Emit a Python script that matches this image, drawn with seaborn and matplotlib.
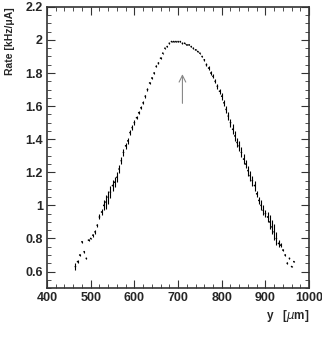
import matplotlib
matplotlib.use("Agg")
import matplotlib.pyplot as plt
import seaborn as sns
import numpy as np
import pandas as pd
from matplotlib.ticker import MultipleLocator

# data
pos_um = [465, 470, 475, 480, 485, 490, 495, 500, 505, 510, 515, 520, 525, 530, 535,
          540, 545, 550, 555, 560, 565, 570, 575, 580, 585, 590, 595, 600, 605, 610,
          615, 620, 625, 630, 635, 640, 645, 650, 655, 660, 665, 670, 675, 680, 685,
          690, 695, 700, 705, 710, 715, 720, 725, 730, 735, 740, 745, 750, 755, 760,
          765, 770, 775, 780, 785, 790, 795, 800, 805, 810, 815, 820, 825, 830, 835,
          840, 845, 850, 855, 860, 865, 870, 875, 880, 885, 890, 895, 900, 905, 910,
          915, 920, 925, 930, 935, 940, 945, 950, 955, 960, 965]
rate = [0.63, 0.66, 0.70, 0.78, 0.72, 0.68, 0.79, 0.80, 0.82, 0.84, 0.88, 0.93, 0.96, 1.00, 1.02,
        1.05, 1.08, 1.12, 1.14, 1.17, 1.22, 1.27, 1.32, 1.36, 1.39, 1.44, 1.47, 1.50, 1.53, 1.56,
        1.59, 1.62, 1.66, 1.70, 1.74, 1.77, 1.80, 1.84, 1.86, 1.89, 1.92, 1.95, 1.96, 1.98, 1.99,
        1.99, 1.99, 1.99, 1.99, 1.98, 1.98, 1.97, 1.97, 1.96, 1.95, 1.94, 1.93, 1.92, 1.90, 1.88,
        1.85, 1.83, 1.80, 1.78, 1.75, 1.72, 1.69, 1.66, 1.62, 1.58, 1.54, 1.50, 1.46, 1.42, 1.38,
        1.36, 1.32, 1.28, 1.25, 1.21, 1.18, 1.15, 1.12, 1.07, 1.03, 1.00, 0.97, 0.95, 0.93, 0.90,
        0.87, 0.84, 0.80, 0.77, 0.76, 0.73, 0.70, 0.65, 0.68, 0.63, 0.66]
rate_err = [0.02, 0.01, 0.005, 0.005, 0.005, 0.005, 0.005, 0.005, 0.01, 0.01, 0.01, 0.015, 0.02, 0.03, 0.04,
            0.04, 0.035, 0.035, 0.03, 0.03, 0.025, 0.02, 0.02, 0.02, 0.02, 0.015, 0.015, 0.015, 0.01, 0.01,
            0.01, 0.01, 0.01, 0.01, 0.008, 0.008, 0.008, 0.006, 0.006, 0.005, 0.004, 0.004, 0.003, 0.003, 0.003,
            0.003, 0.003, 0.003, 0.003, 0.003, 0.003, 0.003, 0.003, 0.003, 0.003, 0.003, 0.003, 0.004, 0.005, 0.006,
            0.008, 0.01, 0.01, 0.012, 0.012, 0.015, 0.015, 0.02, 0.02, 0.02, 0.025, 0.025, 0.03, 0.03, 0.03,
            0.03, 0.03, 0.03, 0.025, 0.03, 0.03, 0.03, 0.03, 0.02, 0.02, 0.03, 0.03, 0.02, 0.03, 0.04,
            0.04, 0.05, 0.04, 0.02, 0.01, 0.005, 0.005, 0.005, 0.005, 0.005, 0.005]
arrow_x = 710
arrow_y0, arrow_y1 = 1.60, 1.81

df = pd.DataFrame({"pos": pos_um, "rate": rate, "err": rate_err})

sns.set_style("ticks")
plt.rcParams["font.family"] = ["Liberation Sans", "DejaVu Sans"]

fig = plt.figure(figsize=(3.22, 3.43), dpi=100)
ax = fig.add_axes([0.146, 0.160, 0.814, 0.820])

ax.errorbar(df["pos"], df["rate"], yerr=df["err"], fmt="none",
            ecolor="black", elinewidth=0.8, capsize=0)
sns.scatterplot(data=df, x="pos", y="rate", ax=ax, s=1.5, color="black",
                edgecolor="none", legend=False)

ax.annotate("", xy=(arrow_x, arrow_y1), xytext=(arrow_x, arrow_y0),
            arrowprops=dict(arrowstyle="->", color="#888888", lw=0.8,
                            mutation_scale=12))

ax.set_xlim(400, 1000)
ax.set_ylim(0.5, 2.2)
ax.xaxis.set_major_locator(MultipleLocator(100))
ax.xaxis.set_minor_locator(MultipleLocator(20))
ax.yaxis.set_major_locator(MultipleLocator(0.2))
ax.yaxis.set_minor_locator(MultipleLocator(0.05))
ax.yaxis.set_major_formatter(matplotlib.ticker.FuncFormatter(lambda v, p: f"{v:.1f}".rstrip("0").rstrip(".")))

ax.tick_params(which="both", direction="in", top=True, right=True, color="#333333")
ax.tick_params(which="major", length=6, width=0.8, labelsize=9, pad=3)
ax.tick_params(which="minor", length=3, width=0.6)
for lab in ax.get_xticklabels() + ax.get_yticklabels():
    lab.set_fontweight("bold")
for s in ax.spines.values():
    s.set_linewidth(1.2)
    s.set_color("#333333")

ax.set_xlabel("y   [$\\mathit{\\mu}$m]", loc="right", fontsize=8.5, fontweight="bold", labelpad=3)
ax.set_ylabel("Rate [kHz/\u03bcA]", loc="top", fontsize=7.5, fontweight="bold", labelpad=7)

fig.savefig("out.png", dpi=100)
